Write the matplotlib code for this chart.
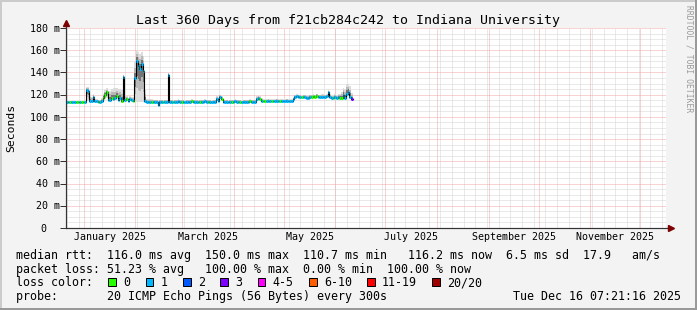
import datetime as dt
import numpy as np
import matplotlib
matplotlib.use("Agg")
import matplotlib.pyplot as plt
import matplotlib.dates as mdates
from matplotlib.patches import Rectangle
from matplotlib.transforms import ScaledTranslation, blended_transform_factory

# ---------------- data ----------------
W, H = 697, 310
END = dt.datetime(2025, 12, 16, 7, 21, 16)
START = END - dt.timedelta(days=360)

title = "Last 360 Days from f21cb284c242 to Indiana University"

# daily median rtt (ms) from START
median_ms = [
    113.5, 113.5, 113, 113.5, 113.5, 113.5, 113, 113.5, 113.5, 113, 113.5, 113.5,
    124, 123, 114,
    114, 118, 114,
    114, 113.5, 113.5, 114,
    117, 120, 122, 115,
    115, 117, 116, 117, 119, 115, 117, 114,
    136, 115,
    116, 114, 116, 115, 114,
    135, 150, 146, 143, 148, 141,
    114,
    113.5, 113.5, 113, 113.5, 113.5, 113.5, 113.5,
    111,
    113.5, 113.5, 113, 113.5, 113.5,
    138,
    113.5, 113.5, 113, 113.5, 113.5, 114, 113.5, 113.5, 113.5, 113, 113.5, 113.5, 113.5, 114,
    113.5, 113.5, 113.5, 113, 113.5, 113.5, 113.5, 114, 113.5, 113.5, 113.5, 113, 113.5, 113.5,
    116, 114, 118, 116, 113.5,
    113.5, 113.5, 113, 113.5, 113.5, 113.5, 114, 113.5, 113.5, 113.5, 113, 113.5, 113.5, 113.5,
    113.5, 114, 113.5, 113.5, 113.5,
    116, 117, 116, 114,
    114, 114, 114, 114.5, 114, 114, 114, 114, 114.5, 114, 114, 114, 114, 114, 114.5, 114, 114, 114,
    116, 118, 118.5,
    118, 118, 117.5, 118, 118, 117, 117, 118, 118, 118.5, 118, 119, 118, 118, 117.5, 118, 118, 118.5,
    122, 118,
    117, 117, 117.5, 117, 118, 117, 117,
    120, 117, 121, 122, 118, 116.2,
]

# lost pings out of 20 per day
loss_count = [
    1, 1, 0, 1, 1, 1, 0, 0, 1, 0, 0, 1,
    1, 1, 1,
    1, 1, 1,
    1, 0, 1, 1,
    0, 0, 0, 1,
    1, 0, 1, 1, 0, 1, 1, 0,
    1, 1,
    0, 1, 1, 1, 0,
    1, 1, 1, 1, 1, 1,
    1,
    1, 1, 1, 0, 1, 1, 1,
    1,
    1, 1, 0, 1, 1,
    1,
    1, 1, 0, 1, 1, 1, 1, 0, 1, 1, 1, 1, 1, 0,
    1, 1, 1, 1, 0, 1, 1, 1, 1, 0, 1, 1, 1, 1,
    1, 1, 1, 0, 1,
    1, 1, 1, 1, 0, 1, 1, 1, 1, 0, 1, 1, 1, 1,
    1, 0, 1, 1, 1,
    1, 1, 0, 1,
    0, 0, 1, 1, 1, 0, 1, 1, 1, 1, 0, 1, 1, 1, 1, 1, 1, 1,
    1, 1, 1,
    1, 1, 0, 1, 1, 1, 1, 1, 0, 0, 0, 0, 1, 1, 1, 1, 1, 1,
    1, 1,
    1, 0, 1, 1, 1, 0, 0,
    1, 1, 1, 1, 1, 3,
]

# smoke: spread of the pings above / below the median (ms)
smoke_up = [
    1, 1, 1, 1, 1, 1, 1, 1, 1, 1, 1, 1,
    3, 4, 6,
    4, 3, 2,
    2, 2, 2, 3,
    4, 4, 4, 8,
    8, 8, 10, 9, 7, 10, 8, 10,
    2, 4,
    3, 3, 3, 3, 4,
    14, 10, 12, 14, 10, 14,
    10,
    3, 3, 3, 3, 2, 2, 2,
    4,
    2, 2, 2, 2, 2,
    2,
    2, 2, 2, 2, 2, 2, 2, 2, 2, 2, 2, 2, 2, 2,
    2, 2, 2, 2, 2, 2, 2, 2, 2, 2, 2, 2, 2, 2,
    3, 4, 2, 3, 3,
    2, 2, 2, 2, 2, 2, 2, 2, 2, 2, 2, 2, 2, 2,
    2, 2, 2, 2, 2,
    3, 3, 3, 3,
    2, 2, 2, 2, 2, 2, 2, 2, 2, 2, 2, 2, 2, 2, 2, 2, 2, 2,
    2, 2, 2,
    2, 2, 2, 2, 2, 3, 3, 2, 2, 2, 2, 2, 2, 2, 3, 3, 2, 2,
    2, 3,
    3, 3, 3, 3, 3, 4, 5,
    6, 8, 9, 8, 10, 5,
]
smoke_dn = [
    0.5, 0.5, 0.5, 0.5, 0.5, 0.5, 0.5, 0.5, 0.5, 0.5, 0.5, 0.5,
    10, 9, 1,
    1, 3, 1,
    1, 0.5, 0.5, 1,
    2, 4, 5, 1,
    1, 2, 2, 2, 3, 1, 2, 1,
    4, 1,
    1, 1, 1, 1, 1,
    22, 37, 33, 30, 35, 28,
    1,
    0.5, 0.5, 0.5, 0.5, 0.5, 0.5, 0.5,
    0.5,
    0.5, 0.5, 0.5, 0.5, 0.5,
    3,
    0.5, 0.5, 0.5, 0.5, 0.5, 0.5, 0.5, 0.5, 0.5, 0.5, 0.5, 0.5, 0.5, 0.5,
    0.5, 0.5, 0.5, 0.5, 0.5, 0.5, 0.5, 0.5, 0.5, 0.5, 0.5, 0.5, 0.5, 0.5,
    1, 0.5, 2, 1, 0.5,
    0.5, 0.5, 0.5, 0.5, 0.5, 0.5, 0.5, 0.5, 0.5, 0.5, 0.5, 0.5, 0.5, 0.5,
    0.5, 0.5, 0.5, 0.5, 0.5,
    1, 1, 1, 0.5,
    0.5, 0.5, 0.5, 0.5, 0.5, 0.5, 0.5, 0.5, 0.5, 0.5, 0.5, 0.5, 0.5, 0.5, 0.5, 0.5, 0.5, 0.5,
    1, 1, 1,
    0.5, 0.5, 0.5, 0.5, 0.5, 0.5, 0.5, 0.5, 0.5, 0.5, 0.5, 0.5, 0.5, 0.5, 0.5, 0.5, 0.5, 0.5,
    2, 1,
    0.5, 0.5, 0.5, 0.5, 0.5, 0.5, 0.5,
    2, 1, 2, 3, 2, 1,
]

loss_labels = ["0", "1", "2", "3", "4-5", "6-10", "11-19", "20/20"]
loss_colors = ["#26ff00", "#00b8ff", "#0059ff", "#7e00ff", "#ff00ff", "#ff5e00", "#ff0000", "#a10000"]

yticks = [0, 20, 40, 60, 80, 100, 120, 140, 160, 180]
ytick_labels = ["0", "20 m", "40 m", "60 m", "80 m", "100 m", "120 m", "140 m", "160 m", "180 m"]
xlabel_months = [(2025, 1, "January 2025"), (2025, 3, "March 2025"), (2025, 5, "May 2025"),
                 (2025, 7, "July 2025"), (2025, 9, "September 2025"), (2025, 11, "November 2025")]

line_rtt = "median rtt:  116.0 ms avg  150.0 ms max  110.7 ms min   116.2 ms now  6.5 ms sd  17.9   am/s"
line_loss = "packet loss: 51.23 % avg   100.00 % max  0.00 % min  100.00 % now"
line_probe = "probe:       20 ICMP Echo Pings (56 Bytes) every 300s"
stamp = "Tue Dec 16 07:21:16 2025"

# ---------------- drawing ----------------
MONO = "DejaVu Sans Mono"
BG = "#f3f3f3"
fig = plt.figure(figsize=(W / 100, H / 100), dpi=100, facecolor=BG)

def fx(px):
    return px / W

def fy(py):
    return 1 - py / H

L, R, T, B = 66, 666, 28, 228
ax = fig.add_axes([fx(L), fy(B), (R - L) / W, (B - T) / H])
ax.set_facecolor("white")
for s in ax.spines.values():
    s.set_visible(False)

x0, x1 = mdates.date2num(START), mdates.date2num(END)
ax.set_xlim(x0, x1)
ax.set_ylim(0, 180)

PX = 0.72
GRID = "#d4d4d4"
MGRID = "#f0a8a8"
dots = (0, (1, 1))

# minor grid (weeks / 5 ms)
d = dt.datetime(START.year, START.month, START.day) + dt.timedelta(days=1)
sundays, months = [], []
while d < END:
    if d.weekday() == 6:
        sundays.append(mdates.date2num(d))
    if d.day == 1:
        months.append(mdates.date2num(d))
    d += dt.timedelta(days=1)
for v in sundays:
    ax.axvline(v, color=GRID, lw=PX, ls=dots, zorder=1)
for v in range(5, 181, 5):
    if v % 20:
        ax.axhline(v, color=GRID, lw=PX, ls=dots, zorder=1)
for v in months:
    ax.axvline(v, color=MGRID, lw=PX, ls=dots, zorder=1.5)
for v in yticks[1:]:
    ax.axhline(v, color=MGRID, lw=PX, ls=dots, zorder=1.5)

# data
t = mdates.date2num([START + dt.timedelta(days=i) for i in range(len(median_ms) + 1)])
med = np.array(median_ms, dtype=float)
up = np.array(smoke_up, dtype=float)
dn = np.array(smoke_dn, dtype=float)

def ext(a):
    return np.append(a, a[-1])

for frac, col in [(1.0, "#dcdcdc"), (0.65, "#b8b8b8"), (0.35, "#747474")]:
    ax.fill_between(t, ext(med - dn * frac), ext(med + up * frac), step="post",
                    color=col, lw=0, zorder=2)
ax.step(t, ext(med), where="post", color="black", lw=0.8, zorder=3)

def bucket(n):
    if n <= 3:
        return n
    if n <= 5:
        return 4
    if n <= 10:
        return 5
    if n <= 19:
        return 6
    return 7

cols = [loss_colors[bucket(n)] for n in loss_count]
lc = ax.hlines(med, t[:-1], t[1:], colors=cols, lw=3 * PX, zorder=4)
lc.set_capstyle("butt")

# axes lines + arrows
AX = "#333333"
ARROW = "#7f0000"
ax.plot([0, 0], [0, 1.03], transform=ax.transAxes, color=AX, lw=PX * 1.2, clip_on=False, zorder=5)
ax.plot([0, 1.009], [0, 0], transform=ax.transAxes, color=AX, lw=PX * 1.2, clip_on=False, zorder=5)
ax.plot([0], [1.023], transform=ax.transAxes, marker="^", ms=5, color=ARROW, mec=ARROW, clip_on=False, zorder=6)
ax.plot([1.0075], [0], transform=ax.transAxes, marker=">", ms=5, color=ARROW, mec=ARROW, clip_on=False, zorder=6)

ax.set_xticks([])
ax.set_yticks(yticks)
ax.tick_params(axis="y", length=4, width=PX, color=AX, direction="out", labelleft=False)

# y tick labels
ytr = blended_transform_factory(ax.transAxes, ax.transData)
for v, lab in zip(yticks, ytick_labels):
    dx = -6.5 if lab.endswith("m") else -19.5
    tr = ytr + ScaledTranslation(dx / 100, -3.7 / 100, fig.dpi_scale_trans)
    ax.text(0, v, lab, transform=tr, ha="right", va="baseline", fontsize=7.2, family=MONO)

# x labels centred in their month
xtr = blended_transform_factory(ax.transData, ax.transAxes)
for yy, mm, lab in xlabel_months:
    a = mdates.date2num(dt.datetime(yy, mm, 1))
    b = mdates.date2num(dt.datetime(yy + (mm // 12), mm % 12 + 1, 1))
    tr = xtr + ScaledTranslation(0, -12 / 100, fig.dpi_scale_trans)
    ax.text((a + b) / 2, 0, lab, transform=tr, ha="center", va="baseline", fontsize=7.2, family=MONO)

# title, unit label, watermark
fig.text(fx(348.5), fy(24), title, ha="center", va="baseline", fontsize=9.5, family=MONO)
fig.text(fx(11), fy(128), "Seconds", ha="center", va="center", rotation=90, fontsize=8.2, family=MONO)
fig.text(fx(688.5), fy(5), "RRDTOOL / TOBI OETIKER", ha="center", va="top", rotation=270,
         fontsize=5.8, family=MONO, color="#9a9a9a")

# legend
LX = 16.3
CW = 7.0
fig.text(fx(LX), fy(258.5), line_rtt, ha="left", va="baseline", fontsize=8.4, family=MONO)
fig.text(fx(LX), fy(272.5), line_loss, ha="left", va="baseline", fontsize=8.4, family=MONO)
fig.text(fx(LX), fy(286.3), "loss color:", ha="left", va="baseline", fontsize=8.4, family=MONO)
fig.text(fx(LX), fy(300), line_probe, ha="left", va="baseline", fontsize=8.4, family=MONO)
fig.text(fx(681), fy(300), stamp, ha="right", va="baseline", fontsize=8.4, family=MONO)

bx = 108.3
for lab, col in zip(loss_labels, loss_colors):
    fig.add_artist(Rectangle((fx(bx), fy(286)), 7.7 / W, 7.7 / H, transform=fig.transFigure,
                             facecolor=col, edgecolor="black", lw=PX))
    fig.text(fx(bx + 15), fy(286.3), lab, ha="left", va="baseline", fontsize=8.4, family=MONO)
    bx += 15 + CW * len(lab) + 15.3

# 3D frame
fig.add_artist(Rectangle((0, fy(2)), 1, 2 / H, transform=fig.transFigure, color="#cbcbcb", lw=0))
fig.add_artist(Rectangle((0, 0), 2 / W, 1, transform=fig.transFigure, color="#cbcbcb", lw=0))
fig.add_artist(Rectangle((0, 0), 1, 2 / H, transform=fig.transFigure, color="#999999", lw=0))
fig.add_artist(Rectangle((fx(W - 2), 0), 2 / W, 1, transform=fig.transFigure, color="#999999", lw=0))

fig.savefig("out.png", dpi=100, facecolor=BG)
